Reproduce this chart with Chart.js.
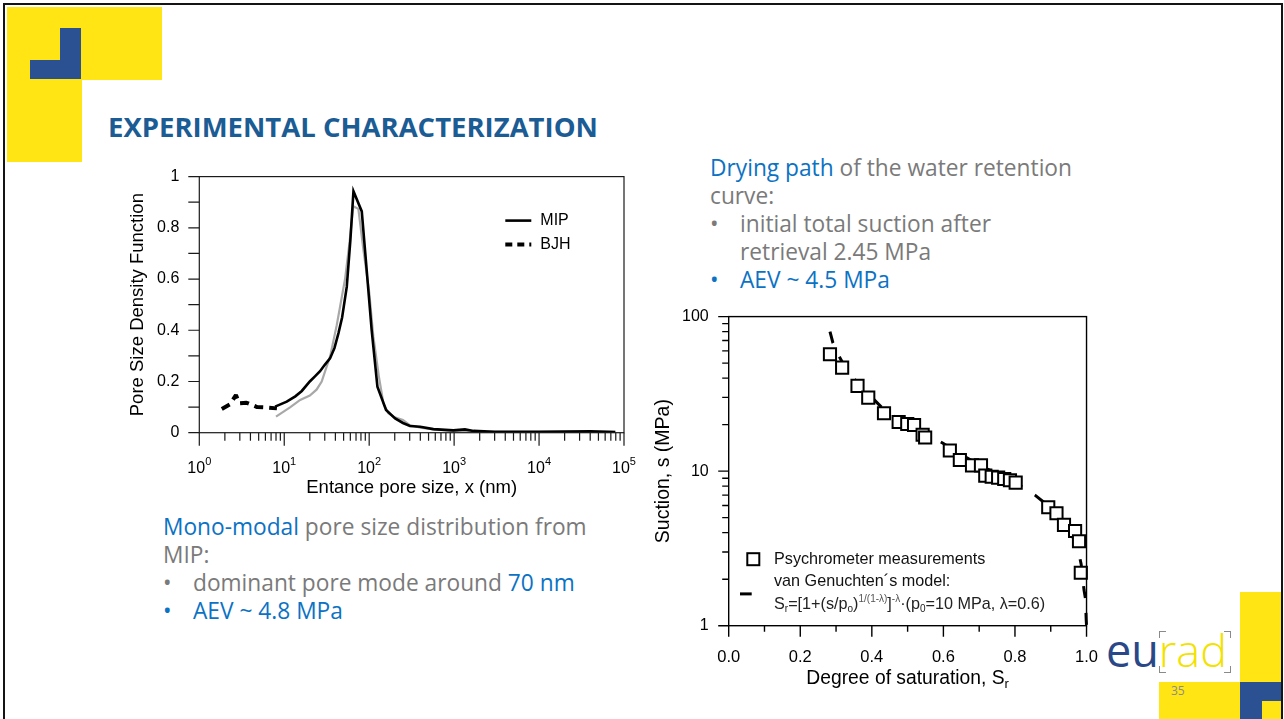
<!DOCTYPE html>
<html><head><meta charset="utf-8">
<script src="https://cdn.jsdelivr.net/npm/chart.js@4.4.1/dist/chart.umd.min.js"></script>
<style>
html,body{margin:0;padding:0;background:#fff;}
body{width:1284px;height:719px;position:relative;overflow:hidden;font-family:'Open Sans',sans-serif;}
.blk{position:absolute;}
.yl{background:#ffe513;}
.bl{background:#2c5192;}
.frame{position:absolute;left:3px;top:3px;width:1276px;height:740px;border:2px solid #141414;z-index:20;}
.txt{position:absolute;white-space:nowrap;line-height:1;color:#7a7a7a;}
.g{color:#7a7a7a;}
.b{color:#0b72c4;}
.mk{display:inline-block;width:0;height:0;vertical-align:baseline;}
.brk{position:absolute;width:6px;height:6px;border-color:#8a8a8a;border-style:solid;border-width:0;}
canvas{position:absolute;}
</style></head>
<body>
<div class="blk yl" style="left:7px;top:7px;width:155px;height:73px"></div>
<div class="blk yl" style="left:7px;top:80px;width:75px;height:82px"></div>
<div class="blk bl" style="left:60px;top:28px;width:21px;height:51px"></div>
<div class="blk bl" style="left:30px;top:60px;width:51px;height:19px"></div>

<div class="blk yl" style="left:1240px;top:592px;width:41px;height:127px"></div>
<div class="blk yl" style="left:1159px;top:682px;width:81px;height:37px"></div>
<div class="blk bl" style="left:1240px;top:682px;width:41px;height:37px"></div>
<div class="blk yl" style="left:1262px;top:701px;width:19px;height:18px"></div>

<div id="title" class="txt" style="color:#1b5c94;font-weight:700"><span class="mk"></span>EXPERIMENTAL CHARACTERIZATION</div>
<div id="body"></div>

<div id="logo" class="txt" style="font-weight:300"><span class="mk"></span><span style="color:#2a4888;font-weight:400">eu</span><span style="color:#f2e200">rad</span></div>
<div class="brk" style="left:1159px;top:631px;border-top-width:1.5px;border-left-width:1.5px"></div>
<div class="brk" style="left:1224px;top:631px;border-top-width:1.5px;border-right-width:1.5px"></div>
<div class="brk" style="left:1159px;top:666px;border-bottom-width:1.5px;border-left-width:1.5px"></div>
<div class="brk" style="left:1224px;top:666px;border-bottom-width:1.5px;border-right-width:1.5px"></div>
<div id="pg" class="txt" style="color:#8c8c8c;font-size:12px"><span class="mk"></span>35</div>

<canvas id="c1" width="550" height="350" style="left:100px;top:160px;width:550px;height:350px"></canvas>
<canvas id="c2" width="460" height="400" style="left:640px;top:300px;width:460px;height:400px"></canvas>
<div class="frame"></div>

<script>
// ---------------- Left chart: pore size density function ----------------
const poreTickExponents = [0, 1, 2, 3, 4, 5];
const densityTicks = [0, 0.2, 0.4, 0.6, 0.8, 1];

const mipSize = [7.8, 10.7, 13.5, 16.1, 20, 23, 26.4, 30, 34.6, 39, 43.5, 48, 54.5, 60, 65.3, 81.8, 90, 107, 125, 158, 202, 250, 302, 398, 570, 979, 1340, 1690, 3000, 10000, 40000, 79000];
const mipDensity = [0.102, 0.121, 0.142, 0.163, 0.2, 0.22, 0.24, 0.265, 0.29, 0.33, 0.389, 0.45, 0.57, 0.75, 0.943, 0.864, 0.70, 0.40, 0.18, 0.089, 0.056, 0.038, 0.026, 0.023, 0.014, 0.009, 0.013, 0.007, 0.004, 0.004, 0.005, 0.003];

const mip2Size = [8.0, 11.7, 15.4, 20, 24, 27.6, 31, 34.8, 41.5, 52, 59, 65, 74.6, 85.5, 100, 112, 130, 147, 168, 200, 250, 300, 400, 600, 1000, 2000, 10000, 79000];
const mip2Density = [0.063, 0.099, 0.128, 0.145, 0.168, 0.2, 0.25, 0.3, 0.42, 0.6, 0.75, 0.884, 0.874, 0.714, 0.55, 0.375, 0.22, 0.115, 0.076, 0.06, 0.05, 0.03, 0.02, 0.012, 0.007, 0.004, 0.003, 0.003];

const bjhSize = [1.84, 2.3, 2.7, 2.96, 3.6, 4.8, 6.5, 8.2];
const bjhDensity = [0.093, 0.111, 0.147, 0.115, 0.117, 0.10, 0.098, 0.095];

// ---------------- Right chart: water retention curve ----------------
const satTicks = [0, 0.2, 0.4, 0.6, 0.8, 1.0];
const suctionTicks = [1, 10, 100];

const psychroSr = [0.283, 0.317, 0.360, 0.390, 0.434, 0.475, 0.499, 0.518, 0.542, 0.549, 0.618, 0.646, 0.680, 0.705, 0.717, 0.735, 0.753, 0.770, 0.786, 0.802, 0.893, 0.916, 0.937, 0.968, 0.979, 0.984];
const psychroS  = [57.1, 46.8, 35.6, 29.9, 23.7, 20.8, 20.2, 19.9, 17.2, 16.5, 13.6, 11.8, 10.9, 10.9, 9.35, 9.2, 9.08, 8.9, 8.73, 8.43, 5.84, 5.34, 4.49, 4.10, 3.52, 2.20];

const vgSr = [0.283, 0.291, 0.30, 0.317, 0.34, 0.36, 0.40, 0.43, 0.47, 0.50, 0.55, 0.60, 0.627, 0.65, 0.70, 0.75, 0.80, 0.823, 0.856, 0.888, 0.92, 0.95, 0.975, 0.985, 0.993, 0.997, 0.999, 1.0];
const vgS  = [80, 68, 60, 51, 43, 37, 30, 25.5, 22, 20, 17.5, 15.1, 13.7, 12.8, 11.0, 9.6, 8.35, 7.87, 7.0, 6.1, 5.2, 4.3, 3.2, 2.5, 1.7, 1.5, 1.1, 1.0];

const FONT = "'Liberation Sans', Arial, sans-serif";
const pts = (xs, ys) => xs.map((x, i) => ({x, y: ys[i]}));
function sizedFont(px) { return px + 'px ' + FONT; }

// size and place each canvas so its plot area lands where the reference has it (page coords)
function fitArea(chart, canvas, t) {
  for (let k = 0; k < 4; k++) {
    const a = chart.chartArea;
    const dw = (t.right - t.left) - (a.right - a.left);
    const dh = (t.bottom - t.top) - (a.bottom - a.top);
    if (Math.abs(dw) < 0.3 && Math.abs(dh) < 0.3) break;
    chart.resize(Math.round(chart.width + dw), Math.round(chart.height + dh));
  }
  const a = chart.chartArea;
  canvas.style.left = (t.left - a.left) + 'px';
  canvas.style.top = (t.top - a.top) + 'px';
}

// ---------- left chart ----------
const leftDecor = {
  id: 'leftDecor',
  afterDraw(chart) {
    const {ctx, chartArea: a, scales: {x, y}} = chart;
    ctx.save();
    ctx.strokeStyle = '#1a1a1a';
    ctx.lineWidth = 1.2;
    ctx.strokeRect(a.left, a.top, a.right - a.left, a.bottom - a.top);
    ctx.beginPath();
    poreTickExponents.forEach((e, k) => {
      const p = x.getPixelForValue(Math.pow(10, e));
      ctx.moveTo(p, a.bottom); ctx.lineTo(p, a.bottom + 13);
      if (k < poreTickExponents.length - 1) {
        for (let m = 2; m <= 9; m++) {
          const q = x.getPixelForValue(m * Math.pow(10, e));
          ctx.moveTo(q, a.bottom); ctx.lineTo(q, a.bottom + 8);
        }
      }
    });
    for (let i = 0; i <= 10; i++) {
      const p = y.getPixelForValue(i / 10);
      ctx.moveTo(a.left - 11, p); ctx.lineTo(a.left, p);
    }
    ctx.stroke();
    ctx.fillStyle = '#000';
    ctx.textBaseline = 'alphabetic';
    ctx.textAlign = 'left';
    poreTickExponents.forEach(e => {
      const p = x.getPixelForValue(Math.pow(10, e));
      ctx.font = sizedFont(16); const w1 = ctx.measureText('10').width;
      ctx.font = sizedFont(11); const w2 = ctx.measureText(String(e)).width;
      const x0 = p - (w1 + w2) / 2;
      ctx.font = sizedFont(16); ctx.fillText('10', x0, a.bottom + 40.5);
      ctx.font = sizedFont(11); ctx.fillText(String(e), x0 + w1, a.bottom + 32.5);
    });
    ctx.font = sizedFont(18.5);
    ctx.textAlign = 'center';
    ctx.textBaseline = 'middle';
    ctx.fillText('Entance pore size, x (nm)', (a.left + a.right) / 2, a.bottom + 55.5);
    ctx.save();
    ctx.translate(a.left - 61.3, (a.top + a.bottom) / 2);
    ctx.rotate(-Math.PI / 2);
    ctx.fillText('Pore Size Density Function', 0, 0);
    ctx.restore();
    // legend
    ctx.lineCap = 'butt';
    ctx.strokeStyle = '#000';
    ctx.lineWidth = 2.6;
    ctx.beginPath(); ctx.moveTo(a.left + 306, a.top + 44); ctx.lineTo(a.left + 332, a.top + 44); ctx.stroke();
    ctx.lineWidth = 4;
    ctx.setLineDash([7, 5]);
    ctx.beginPath(); ctx.moveTo(a.left + 306, a.top + 68); ctx.lineTo(a.left + 332, a.top + 68); ctx.stroke();
    ctx.setLineDash([]);
    ctx.font = sizedFont(16);
    ctx.textAlign = 'left';
    ctx.fillText('MIP', a.left + 341, a.top + 44);
    ctx.fillText('BJH', a.left + 341, a.top + 68);
    ctx.restore();
  }
};

const c1 = document.getElementById('c1');
const chart1 = new Chart(c1, {
  type: 'scatter',
  data: {
    datasets: [
      {label: 'MIP', data: pts(mipSize, mipDensity), showLine: true, borderColor: '#000', borderWidth: 2.6, pointRadius: 0, order: 0},
      {label: 'BJH', data: pts(bjhSize, bjhDensity), showLine: true, borderColor: '#000', borderWidth: 4, borderDash: [9, 6], borderJoinStyle: 'bevel', pointRadius: 0, order: 1},
      {label: 'MIP (repeat)', data: pts(mip2Size, mip2Density), showLine: true, borderColor: '#a8a8a8', borderWidth: 2.2, pointRadius: 0, order: 2}
    ]
  },
  options: {
    responsive: false, maintainAspectRatio: false, animation: false, devicePixelRatio: 1,
    layout: {padding: {top: 17, right: 26, left: 0, bottom: 0}},
    plugins: {legend: {display: false}, tooltip: {enabled: false}},
    scales: {
      x: {type: 'logarithmic', min: 1, max: 100000,
          grid: {display: false, drawTicks: false}, border: {display: false},
          ticks: {display: false},
          afterFit(s) { s.height = 77.3; }},
      y: {type: 'linear', min: 0, max: 1,
          grid: {display: false, drawTicks: false}, border: {display: false},
          afterBuildTicks(s) { s.ticks = densityTicks.map(v => ({value: v})); },
          ticks: {padding: 20, color: '#000', font: {family: FONT, size: 16}, callback: v => String(v)},
          afterFit(s) { s.width = 99.3; }}
    }
  },
  plugins: [leftDecor]
});
fitArea(chart1, c1, {left: 199.3, top: 177, right: 624, bottom: 432.7});

// ---------- right chart ----------
const rightDecor = {
  id: 'rightDecor',
  afterDraw(chart) {
    const {ctx, chartArea: a, scales: {x, y}} = chart;
    ctx.save();
    ctx.strokeStyle = '#000';
    ctx.lineWidth = 1.4;
    ctx.strokeRect(a.left, a.top, a.right - a.left, a.bottom - a.top);
    ctx.beginPath();
    for (let i = 0; i <= 10; i++) {
      const p = x.getPixelForValue(i / 10);
      const len = (i % 2 === 0) ? 11 : 6;
      ctx.moveTo(p, a.bottom); ctx.lineTo(p, a.bottom + len);
    }
    for (let d = 0; d < suctionTicks.length; d++) {
      const base = suctionTicks[d];
      const p = y.getPixelForValue(base);
      ctx.moveTo(a.left - 10.5, p); ctx.lineTo(a.left, p);
      if (d < suctionTicks.length - 1) {
        for (let m = 2; m <= 9; m++) {
          const q = y.getPixelForValue(m * base);
          ctx.moveTo(a.left - 6.5, q); ctx.lineTo(a.left, q);
        }
      }
    }
    ctx.stroke();
    ctx.fillStyle = '#000';
    ctx.textBaseline = 'middle';
    const t1 = 'Degree of saturation, S';
    ctx.font = sizedFont(19.3); const w1 = ctx.measureText(t1).width;
    ctx.font = sizedFont(13); const w2 = ctx.measureText('r').width;
    const cx = (a.left + a.right) / 2, x0 = cx - (w1 + w2) / 2;
    ctx.textAlign = 'left';
    ctx.font = sizedFont(19.3); ctx.fillText(t1, x0, a.bottom + 52.5);
    ctx.font = sizedFont(13); ctx.fillText('r', x0 + w1, a.bottom + 58.5);
    ctx.save();
    ctx.translate(a.left - 64.7, (a.top + a.bottom) / 2);
    ctx.rotate(-Math.PI / 2);
    ctx.textAlign = 'center';
    ctx.font = sizedFont(19.5);
    ctx.fillText('Suction, s (MPa)', 0, 0);
    ctx.restore();
    // legend
    ctx.lineWidth = 2;
    ctx.fillStyle = '#fff';
    ctx.fillRect(a.left + 18.6, a.top + 236.6, 12, 12);
    ctx.strokeRect(a.left + 18.6, a.top + 236.6, 12, 12);
    ctx.lineWidth = 3;
    ctx.beginPath(); ctx.moveTo(a.left + 11.3, a.top + 277.3); ctx.lineTo(a.left + 23, a.top + 277.3); ctx.stroke();
    ctx.fillStyle = '#111';
    ctx.textAlign = 'left';
    ctx.font = sizedFont(16.2);
    ctx.fillText('Psychrometer measurements', a.left + 45.3, a.top + 242.6);
    ctx.fillText('van Genuchten\u00b4s model:', a.left + 45.3, a.top + 265);
    const parts = [
      ['S', 0], ['r', 1], ['=[1+(s/p', 0], ['o', 1], [')', 0], ['1/(1-\u03bb)', -1], [']', 0], ['-\u03bb', -1],
      ['\u00b7(p', 0], ['0', 1], ['=10 MPa, \u03bb=0.6)', 0]
    ];
    let xx = a.left + 45.3;
    const yy = a.top + 288.3;
    parts.forEach(([t, k]) => {
      const fs = k === 0 ? 16.2 : 10;
      ctx.font = sizedFont(fs);
      const dy = k === 0 ? 0 : (k === 1 ? 4 : -6);
      ctx.fillStyle = k === -1 ? '#555' : '#222';
      ctx.fillText(t, xx, yy + dy);
      xx += ctx.measureText(t).width;
    });
    ctx.restore();
  }
};

const c2 = document.getElementById('c2');
const chart2 = new Chart(c2, {
  type: 'scatter',
  data: {
    datasets: [
      {label: 'Psychrometer measurements', data: pts(psychroSr, psychroS), showLine: false,
       pointStyle: 'rect', pointRadius: 8.6, borderWidth: 2, borderColor: '#000', backgroundColor: '#fff', order: 0},
      {label: "van Genuchten\u00b4s model", data: pts(vgSr, vgS), showLine: true, borderColor: '#000',
       borderWidth: 3, borderDash: [12, 15], pointRadius: 0, order: 1}
    ]
  },
  options: {
    responsive: false, maintainAspectRatio: false, animation: false, devicePixelRatio: 1,
    layout: {padding: {top: 16.7, right: 13.3, left: 0, bottom: 0}},
    plugins: {legend: {display: false}, tooltip: {enabled: false}},
    clip: false,
    scales: {
      x: {type: 'linear', min: 0, max: 1,
          grid: {display: false, drawTicks: false}, border: {display: false},
          afterBuildTicks(s) { s.ticks = satTicks.map(v => ({value: v})); },
          ticks: {padding: 22, color: '#000', font: {family: FONT, size: 16.5}, maxRotation: 0, callback: v => Number(v).toFixed(1)},
          afterFit(s) { s.height = 74.3; }},
      y: {type: 'logarithmic', min: 1, max: 100,
          grid: {display: false, drawTicks: false}, border: {display: false},
          afterBuildTicks(s) { s.ticks = suctionTicks.map(v => ({value: v})); },
          ticks: {padding: 20, color: '#000', font: {family: FONT, size: 16}, callback: v => String(v)},
          afterFit(s) { s.width = 88.7; }}
    }
  },
  plugins: [rightDecor]
});
fitArea(chart2, c2, {left: 728.7, top: 316.7, right: 1086.7, bottom: 625.7});

// ---------------- slide text ----------------
function placeLine(el, x, baseline) {
  el.style.left = x + 'px';
  el.style.top = '0px';
  const mk = el.querySelector('.mk');
  const off = mk.getBoundingClientRect().top - el.getBoundingClientRect().top;
  el.style.top = (baseline - off) + 'px';
}
function fitSize(el, target) {
  el.style.fontSize = '20px';
  const w = el.getBoundingClientRect().width;
  return 20 * target / w;
}

const title = document.getElementById('title');
title.style.fontSize = fitSize(title, 490) + 'px';
placeLine(title, 108, 137);

const logo = document.getElementById('logo');
logo.style.fontSize = fitSize(logo, 121) + 'px';
placeLine(logo, 1106, 667);

placeLine(document.getElementById('pg'), 1171, 695);

const bodyLines = [
  {x: 163, b: 534.5, p: [['Mono-modal', 'b'], [' pore size distribution from', 'g']]},
  {x: 163, b: 563, p: [['MIP:', 'g']]},
  {x: 193, b: 591, bullet: 163, p: [['dominant pore mode around ', 'g'], ['70 nm', 'b']]},
  {x: 193, b: 619, bullet: 163, p: [['AEV ~ 4.8 MPa', 'b']]},
  {x: 710, b: 176, p: [['Drying path', 'b'], [' of the water retention', 'g']]},
  {x: 710, b: 204, p: [['curve:', 'g']]},
  {x: 740, b: 232, bullet: 710, p: [['initial total suction after', 'g']]},
  {x: 740, b: 260, p: [['retrieval 2.45 MPa', 'g']]},
  {x: 740, b: 288, bullet: 710, p: [['AEV ~ 4.5 MPa', 'b']]}
];
const host = document.getElementById('body');
function makeLine(parts) {
  const d = document.createElement('div');
  d.className = 'txt';
  const m = document.createElement('span'); m.className = 'mk'; d.appendChild(m);
  parts.forEach(([t, c]) => { const s = document.createElement('span'); s.className = c; s.textContent = t; d.appendChild(s); });
  host.appendChild(d);
  return d;
}
const els = bodyLines.map(l => makeLine(l.p));
const bodySize = fitSize(els[0], 424);
bodyLines.forEach((l, i) => {
  els[i].style.fontSize = bodySize + 'px';
  placeLine(els[i], l.x, l.b);
  if (l.bullet !== undefined) {
    const bd = makeLine([['\u2022', l.p[0][1]]]);
    bd.style.fontSize = bodySize + 'px';
    placeLine(bd, l.bullet, l.b);
  }
});
</script>
</body></html>
